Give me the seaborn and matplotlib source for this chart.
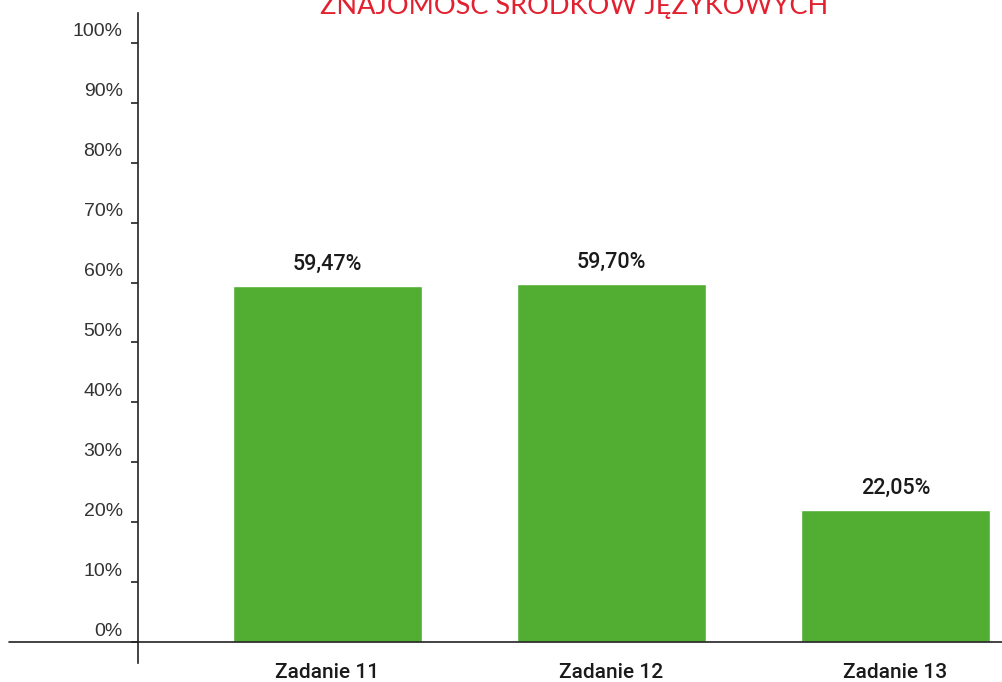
import matplotlib
matplotlib.use("Agg")
import matplotlib.pyplot as plt
import matplotlib.transforms as mtransforms
import seaborn as sns
import pandas as pd

categories = ["Zadanie 11", "Zadanie 12", "Zadanie 13"]
values = [59.47, 59.70, 22.05]
value_labels = ["59,47%", "59,70%", "22,05%"]
yticks = [0, 10, 20, 30, 40, 50, 60, 70, 80, 90, 100]
ytick_labels = [f"{t}%" for t in yticks]
title = "ZNAJOMOŚĆ ŚRODKÓW JĘZYKOWYCH"

sns.set_theme(style="white")
plt.rcParams["font.family"] = ["Liberation Sans", "DejaVu Sans"]

df = pd.DataFrame({"cat": categories, "val": values})

fig = plt.figure(figsize=(10.02, 6.82), dpi=100)
W, H = 1002, 682
ax = fig.add_axes([138 / W, 1 - 663 / H, (1002 - 138) / W, (663 - 13) / H])

sns.barplot(data=df, x="cat", y="val", color="#52AE32", saturation=1,
            width=0.665, ax=ax)

ax.set_xlim(-0.667, 2.375)
ax.set_ylim(-3.5, 105)

for s in ["top", "right"]:
    ax.spines[s].set_visible(False)
ax.spines["left"].set_color("#222222")
ax.spines["left"].set_linewidth(1.2)
ax.spines["bottom"].set_position(("data", 0))
ax.spines["bottom"].set_color("#222222")
ax.spines["bottom"].set_linewidth(1.2)

# extend the baseline to the left of the y axis
ax.plot([-1.12, -0.667], [0, 0], color="#222222", lw=1.2, clip_on=False)

ax.set_yticks(yticks)
ax.set_yticklabels(ytick_labels, fontsize=14, color="#333333")
ax.tick_params(axis="y", direction="out", length=5, width=1.2, color="#222222", pad=6, left=True)
offset = mtransforms.ScaledTranslation(0, 13 / 100, fig.dpi_scale_trans)
for lab in ax.get_yticklabels():
    lab.set_transform(lab.get_transform() + offset)

ax.set_xticks(range(len(categories)))
ax.set_xticklabels(categories, fontsize=15, color="#1a1a1a")
for lab in ax.get_xticklabels():
    lab.set_family(["Roboto", "DejaVu Sans"])
    lab.set_fontweight(500)
ax.tick_params(axis="x", length=0, pad=15)
ax.set_xlabel("")
ax.set_ylabel("")

for i, (v, lab) in enumerate(zip(values, value_labels)):
    ax.annotate(lab, (i, v), xytext=(0, 8), textcoords="offset points",
                ha="center", va="bottom", fontsize=15.5, fontweight=500,
                family=["Roboto", "DejaVu Sans"], color="#1a1a1a")

fig.text(574 / W, 1 - 4 / H, title, ha="center", va="center",
         fontsize=19.5, color="#E3202F", family=["Lato", "DejaVu Sans"])

fig.savefig("out.png", dpi=100)
